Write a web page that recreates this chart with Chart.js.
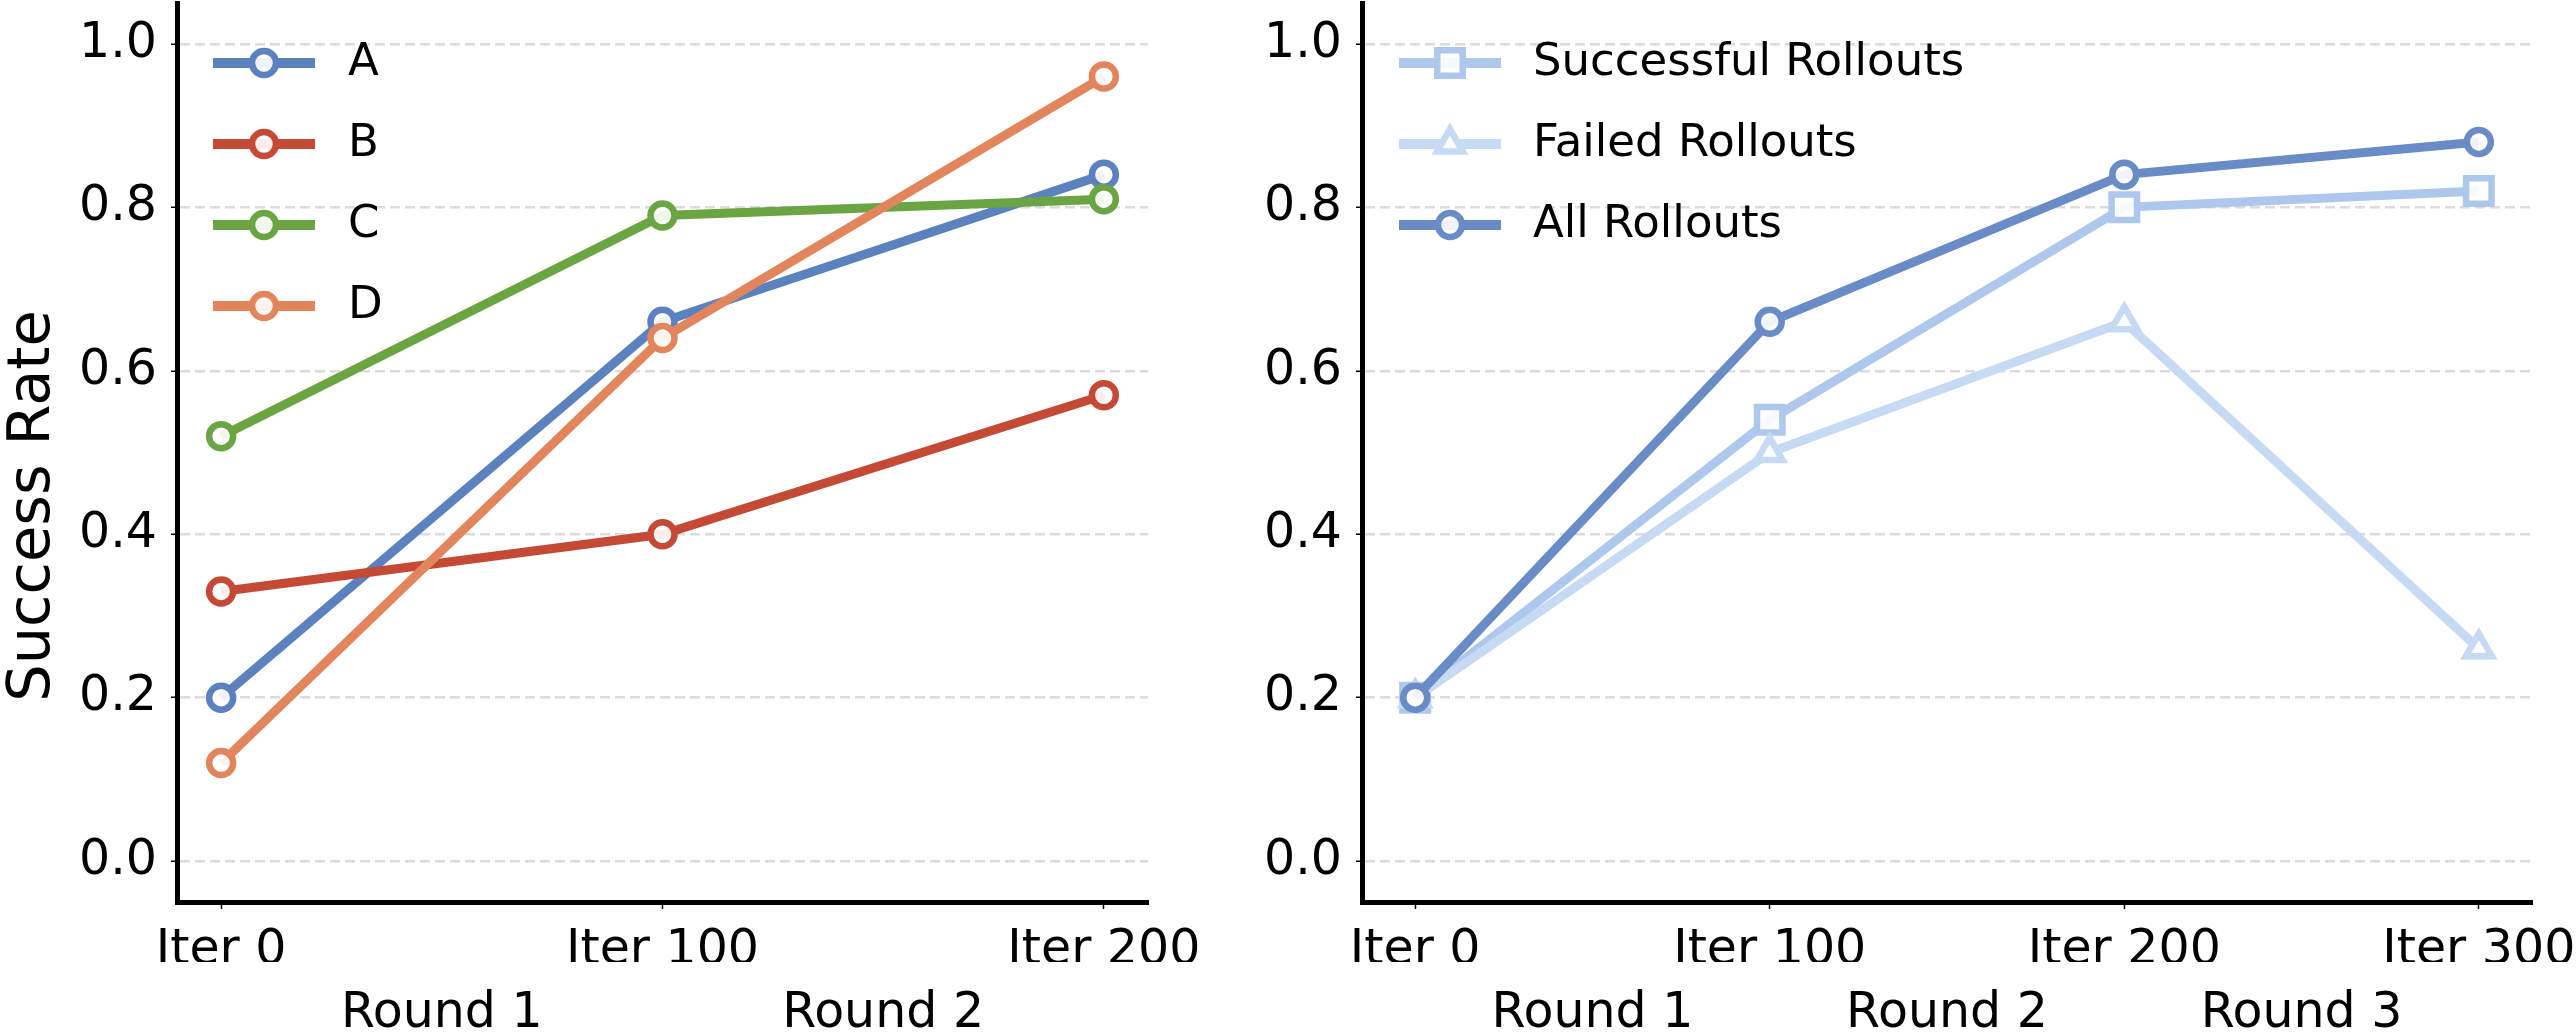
<!DOCTYPE html>
<html>
<head>
<meta charset="utf-8">
<title>Success Rate</title>
<script src="https://cdn.jsdelivr.net/npm/chart.js@4.4.1/dist/chart.umd.min.js"></script>
<style>
  html, body { margin: 0; padding: 0; background: #fff; }
  body { width: 2576px; height: 1036px; position: relative; overflow: hidden; }
  canvas { position: absolute; top: 0; }
  #leftChart { left: 0; }
  #rightChart { left: 1240px; }
</style>
</head>
<body>
<canvas id="leftChart" width="1240" height="1036"></canvas>
<canvas id="rightChart" width="1336" height="1036"></canvas>
<script>
// ---- data ----
const leftIters = ['Iter 0', 'Iter 100', 'Iter 200'];
const leftRounds = ['Round 1', 'Round 2'];
const seriesA = [0.20, 0.66, 0.84];
const seriesB = [0.33, 0.40, 0.57];
const seriesC = [0.52, 0.79, 0.81];
const seriesD = [0.12, 0.64, 0.96];

const rightIters = ['Iter 0', 'Iter 100', 'Iter 200', 'Iter 300'];
const rightRounds = ['Round 1', 'Round 2', 'Round 3'];
const successfulRollouts = [0.20, 0.54, 0.80, 0.82];
const failedRollouts = [0.20, 0.50, 0.66, 0.26];
const allRollouts = [0.20, 0.66, 0.84, 0.88];

const yTicks = [0.0, 0.2, 0.4, 0.6, 0.8, 1.0];
const yLabel = 'Success Rate';

const FONT = '"DejaVu Sans", sans-serif';
Chart.defaults.font.family = FONT;
Chart.defaults.color = '#000';

function toPoints(values) {
  return values.map((v, i) => ({ x: i, y: v }));
}

function lineSet(label, values, color, style, radius, order) {
  return {
    label: label,
    data: toPoints(values),
    borderColor: color,
    borderWidth: 9,
    pointStyle: style,
    pointRadius: radius,
    pointBorderWidth: 6.5,
    pointBorderColor: color,
    pointBackgroundColor: 'rgba(255,255,255,0.9)',
    tension: 0,
    fill: false,
    order: order
  };
}

// legend drawn inside the plot, line handle with the marker on it
const inlineLegend = {
  id: 'inlineLegend',
  afterDatasetsDraw(chart, args, opts) {
    const ctx = chart.ctx;
    const area = chart.chartArea;
    ctx.save();
    chart.data.datasets.forEach((ds, i) => {
      const y = area.top + opts.top + i * opts.rowGap;
      const x0 = area.left + opts.left;
      const x1 = x0 + opts.handle;
      ctx.strokeStyle = ds.borderColor;
      ctx.lineWidth = opts.lineWidth;
      ctx.beginPath();
      ctx.moveTo(x0, y);
      ctx.lineTo(x1, y);
      ctx.stroke();

      ctx.fillStyle = ds.pointBackgroundColor;
      ctx.strokeStyle = ds.borderColor;
      ctx.lineWidth = ds.pointBorderWidth;
      Chart.helpers.drawPoint(ctx, {
        pointStyle: ds.pointStyle,
        radius: ds.pointRadius,
        rotation: 0,
        borderWidth: ds.pointBorderWidth
      }, (x0 + x1) / 2, y);

      ctx.fillStyle = '#000';
      ctx.font = opts.fontSize + 'px ' + FONT;
      ctx.textAlign = 'left';
      ctx.textBaseline = 'middle';
      ctx.fillText(ds.label, x1 + opts.textGap, y);
    });
    ctx.restore();
  }
};

// y label is centred on the figure, not on the axes
const sideLabel = {
  id: 'sideLabel',
  afterDraw(chart, args, opts) {
    if (!opts.text) return;
    const ctx = chart.ctx;
    ctx.save();
    ctx.translate(opts.x, opts.y);
    ctx.rotate(-Math.PI / 2);
    ctx.font = opts.fontSize + 'px ' + FONT;
    ctx.fillStyle = '#000';
    ctx.textAlign = 'center';
    ctx.textBaseline = 'alphabetic';
    ctx.fillText(opts.text, 0, 0);
    ctx.restore();
  }
};

function makeScales(iters, rounds, yWidth) {
  const n = iters.length - 1;
  const pad = 0.05 * n;
  return {
    x: {
      type: 'linear',
      position: 'bottom',
      weight: 0,
      min: -pad,
      max: n + pad,
      afterBuildTicks: ax => { ax.ticks = iters.map((_, i) => ({ value: i })); },
      afterFit: ax => {
        ax.height = 60;
        ax.paddingLeft = 0;
        ax.paddingRight = 0;
      },
      ticks: {
        autoSkip: false,
        maxRotation: 0,
        padding: 13,
        color: '#000',
        font: { size: 49 },
        callback: v => iters[Math.round(v)]
      },
      grid: { drawOnChartArea: false, drawTicks: true, tickLength: 7, tickColor: '#000', tickWidth: 1.5 },
      border: { display: true, color: '#000', width: 5 }
    },
    x2: {
      type: 'linear',
      position: 'bottom',
      weight: 1,
      min: -pad,
      max: n + pad,
      afterBuildTicks: ax => { ax.ticks = rounds.map((_, i) => ({ value: i + 0.5 })); },
      afterFit: ax => {
        ax.height = 74;
        ax.paddingLeft = 0;
        ax.paddingRight = 0;
      },
      ticks: {
        autoSkip: false,
        maxRotation: 0,
        padding: 23,
        color: '#000',
        font: { size: 49 },
        callback: v => rounds[Math.round(v - 0.5)]
      },
      grid: { display: false, drawTicks: false },
      border: { display: false }
    },
    y: {
      type: 'linear',
      min: -0.05,
      max: 1.05,
      afterBuildTicks: ax => { ax.ticks = yTicks.map(v => ({ value: v })); },
      afterFit: ax => {
        ax.width = yWidth;
        ax.paddingTop = 0;
        ax.paddingBottom = 0;
      },
      ticks: {
        padding: 14,
        color: '#000',
        font: { size: 49 },
        callback: v => v.toFixed(1)
      },
      grid: { color: '#dcdcdc', lineWidth: 2.5, tickLength: 6, tickColor: '#000', tickWidth: 1.5 },
      border: { display: true, color: '#000', width: 5, dash: [10, 5] }
    }
  };
}

function baseOptions(iters, rounds, yWidth, padRight, legendOpts, labelOpts) {
  return {
    responsive: false,
    animation: false,
    devicePixelRatio: 1,
    layout: { autoPadding: false, padding: { top: 3, right: padRight, bottom: 0, left: 0 } },
    scales: makeScales(iters, rounds, yWidth),
    plugins: {
      legend: { display: false },
      tooltip: { enabled: false },
      inlineLegend: legendOpts,
      sideLabel: labelOpts
    }
  };
}

// left panel
new Chart(document.getElementById('leftChart').getContext('2d'), {
  type: 'line',
  data: {
    datasets: [
      lineSet('A', seriesA, '#5b82bf', 'circle', 12, 3),
      lineSet('B', seriesB, '#c54a36', 'circle', 12, 2),
      lineSet('C', seriesC, '#6aa443', 'circle', 12, 1),
      lineSet('D', seriesD, '#e3855c', 'circle', 12, 0)
    ]
  },
  options: baseOptions(leftIters, leftRounds, 177, 92,
    { top: 60, rowGap: 81, left: 36, handle: 102, lineWidth: 10, textGap: 33, fontSize: 45 },
    { text: yLabel, x: 49, y: 506, fontSize: 59 }),
  plugins: [inlineLegend, sideLabel]
});

// right panel
new Chart(document.getElementById('rightChart').getContext('2d'), {
  type: 'line',
  data: {
    datasets: [
      lineSet('Successful Rollouts', successfulRollouts, '#aec7ec', 'rect', 18, 2),
      lineSet('Failed Rollouts', failedRollouts, '#c6daf4', 'triangle', 15, 1),
      lineSet('All Rollouts', allRollouts, '#6a8cc6', 'circle', 12, 0)
    ]
  },
  options: baseOptions(rightIters, rightRounds, 122, 44,
    { top: 60, rowGap: 81, left: 37, handle: 102, lineWidth: 10, textGap: 32, fontSize: 45 },
    { text: '' }),
  plugins: [inlineLegend, sideLabel]
});
</script>
</body>
</html>
